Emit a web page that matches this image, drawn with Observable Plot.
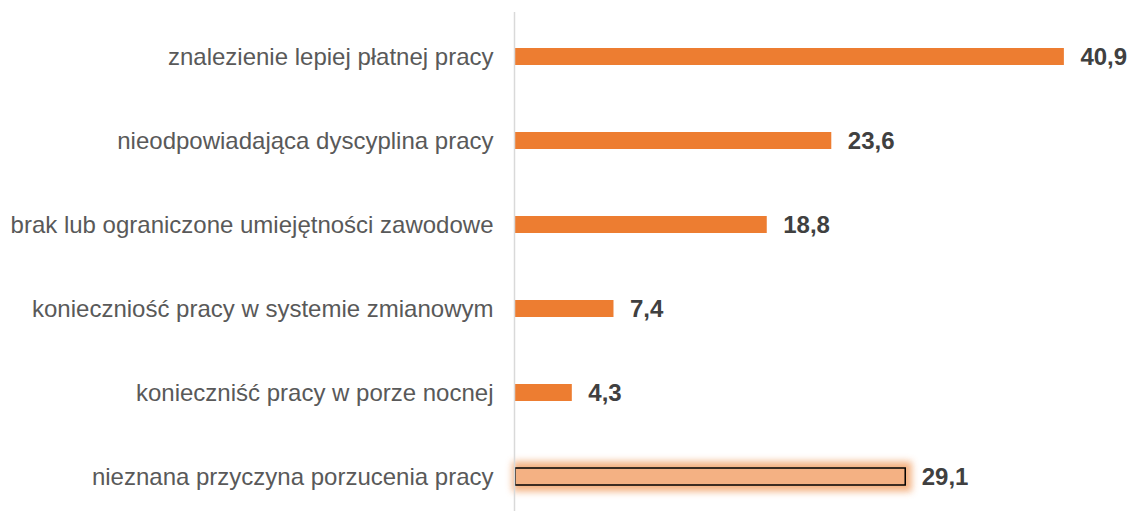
<!DOCTYPE html>
<html><head><meta charset="utf-8">
<script src="https://cdn.jsdelivr.net/npm/d3@7"></script>
<script src="https://cdn.jsdelivr.net/npm/@observablehq/plot@0.6"></script>
<style>body{margin:0;background:#fff;font-family:"Liberation Sans",Arial,sans-serif}</style>
</head><body><div id="chart"></div>
<script>
const categories = [
  "znalezienie lepiej płatnej pracy",
  "nieodpowiadająca dyscyplina pracy",
  "brak lub ograniczone umiejętności zawodowe",
  "konieczniość pracy w systemie zmianowym",
  "konieczniść pracy w porze nocnej",
  "nieznana przyczyna porzucenia pracy"
];
const values = [40.9, 23.6, 18.8, 7.4, 4.3, 29.1];
const highlighted = [false, false, false, false, false, true];

const data = categories.map((c, i) => ({cat: c, v: values[i], hi: highlighted[i]}));
const normal = data.filter(d => !d.hi);
const special = data.filter(d => d.hi);
const fmt = v => v.toFixed(1).replace(".", ",");

const chart = Plot.plot({
  width: 1129,
  height: 511,
  marginLeft: 514,
  marginRight: 10,
  marginTop: 12,
  marginBottom: 0,
  style: {fontFamily: '"Liberation Sans", Arial, sans-serif', background: "#fff"},
  x: {domain: [0, 45], axis: null},
  y: {domain: categories, range: [14, 519], paddingInner: 0.8, paddingOuter: 0.4, label: null},
  marks: [
    Plot.axisY({tickSize: 0, tickPadding: 21, fontSize: 24, fill: "#595959", label: null, fontFamily: '"Liberation Sans", Arial, sans-serif'}),
    Plot.barX(normal, {x: "v", y: "cat", fill: "#ED7D31"}),
    Plot.barX(special, {x: "v", y: "cat", fill: "#F2A46C", stroke: "#F2A46C", strokeWidth: 13, insetLeft: 5}),
    Plot.barX(special, {x: "v", y: "cat", fill: "#F4B183", stroke: "#000", strokeWidth: 1.5, insetLeft: 1}),
    Plot.ruleX([0], {stroke: "#d9d9d9", strokeWidth: 1.5}),
    Plot.text(data, {x: "v", y: "cat", text: d => fmt(d.v), textAnchor: "start", dx: 16, fontSize: 24, fontWeight: "bold", fill: "#404040", fontFamily: '"Liberation Sans", Arial, sans-serif'})
  ]
});

const svg = d3.select(chart);
const defs = svg.insert("defs", ":first-child");
const f = defs.append("filter").attr("id", "glowf")
  .attr("filterUnits", "userSpaceOnUse")
  .attr("x", 0).attr("y", 0).attr("width", 1129).attr("height", 511);
f.append("feGaussianBlur").attr("stdDeviation", 3.5);
const bars = svg.selectAll('g[aria-label="bar"]').nodes();
if (bars.length >= 2) d3.select(bars[1]).attr("filter", "url(#glowf)").attr("opacity", 0.85);

document.getElementById("chart").appendChild(chart);
</script>
</body></html>
